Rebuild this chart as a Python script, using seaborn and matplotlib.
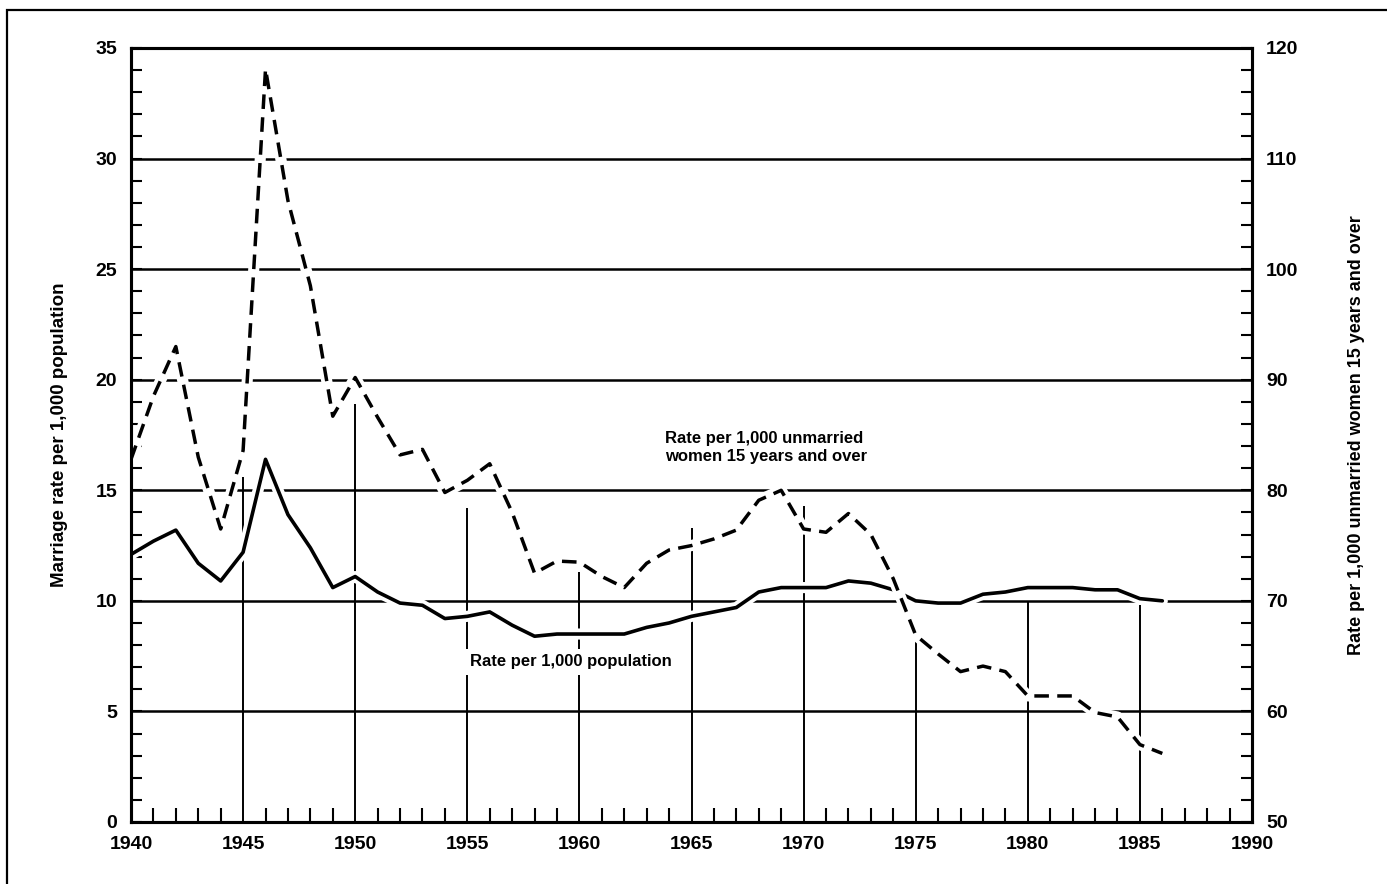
import matplotlib.pyplot as plt
import seaborn as sns
import pandas as pd
from matplotlib import patheffects as pe
from matplotlib.ticker import MultipleLocator
from matplotlib.patches import Rectangle

# Marriage rates, 1940-1986
years = list(range(1940, 1987))
rate_population = [12.1, 12.7, 13.2, 11.7, 10.9, 12.2, 16.4, 13.9, 12.4, 10.6,
                   11.1, 10.4, 9.9, 9.8, 9.2, 9.3, 9.5, 8.9, 8.4, 8.5,
                   8.5, 8.5, 8.5, 8.8, 9.0, 9.3, 9.5, 9.7, 10.4, 10.6,
                   10.6, 10.6, 10.9, 10.8, 10.5, 10.0, 9.9, 9.9, 10.3, 10.4,
                   10.6, 10.6, 10.6, 10.5, 10.5, 10.1, 10.0]
rate_unmarried_women = [82.8, 88.5, 93.0, 83.0, 76.5, 83.6, 118.1, 106.2, 98.5, 86.7,
                        90.2, 86.6, 83.2, 83.7, 79.8, 80.9, 82.4, 78.0, 72.5, 73.6,
                        73.5, 72.2, 71.2, 73.4, 74.6, 75.0, 75.6, 76.4, 79.1, 80.0,
                        76.5, 76.2, 77.9, 76.0, 72.0, 66.9, 65.2, 63.6, 64.1, 63.6,
                        61.4, 61.4, 61.4, 59.9, 59.5, 57.0, 56.2]

# vertical drop lines at every 5 years (top in left-axis units)
drop_years = [1945, 1950, 1955, 1960, 1965, 1970, 1975, 1980, 1985]
drop_tops = [15.6, 18.9, 14.2, 11.3, 13.3, 14.3, 8.9, 10.0, 9.8]

left_ticks = [0, 5, 10, 15, 20, 25, 30, 35]
right_ticks = [50, 60, 70, 80, 90, 100, 110, 120]
year_ticks = [1940, 1945, 1950, 1955, 1960, 1965, 1970, 1975, 1980, 1985, 1990]

df = pd.DataFrame({"Year": years, "Population": rate_population,
                   "Women": rate_unmarried_women})

sns.set_theme(style="white")
plt.rcParams["font.family"] = ["Liberation Sans", "DejaVu Sans"]
plt.rcParams["font.weight"] = "bold"
for key in ("text.color", "axes.labelcolor", "xtick.color", "ytick.color"):
    plt.rcParams[key] = "black"

fig = plt.figure(figsize=(13.87, 8.84), dpi=100)
ax = fig.add_axes([131 / 1387, 1 - 822 / 884, (1252 - 131) / 1387, (822 - 48) / 884])
ax2 = ax.twinx()

# outer frame
fig.add_artist(Rectangle((7 / 1387, -0.2), 1.2, 1.2 - 10 / 884, transform=fig.transFigure,
                         fill=False, edgecolor="black", lw=1.6))

# horizontal grid and drop lines
for yv in left_ticks[1:-1]:
    ax.axhline(yv, color="black", lw=1.8, zorder=1)
ax.vlines(drop_years, 0, drop_tops, color="black", lw=1.4, zorder=1)

halo = [pe.Stroke(linewidth=8, foreground="white"), pe.Normal()]
sns.lineplot(data=df, x="Year", y="Population", ax=ax, color="black", lw=2.6,
             zorder=3, path_effects=halo)

sns.lineplot(data=df, x="Year", y="Women", ax=ax2, color="white", lw=8, zorder=2)
sns.lineplot(data=df, x="Year", y="Women", ax=ax2, color="black", lw=2.5,
             linestyle=(0, (4.2, 2.4)), zorder=3)

ax.set_xlim(1940, 1990)
ax.set_ylim(0, 35)
ax2.set_ylim(50, 120)

ax.set_xticks(year_ticks)
ax.set_xticklabels([str(y) for y in year_ticks])
ax.xaxis.set_minor_locator(MultipleLocator(1))
ax.set_yticks(left_ticks)
ax.yaxis.set_minor_locator(MultipleLocator(1))
ax2.set_yticks(right_ticks)
ax2.yaxis.set_minor_locator(MultipleLocator(2))

ax.tick_params(axis="x", which="major", direction="in", length=0, pad=10, labelsize=14)
ax.tick_params(axis="x", which="minor", direction="in", length=10, width=1.5, color="black")
ax.tick_params(axis="y", which="major", direction="in", length=8, width=1.5, pad=10,
               labelsize=14, left=True, color="black")
ax.tick_params(axis="y", which="minor", direction="in", length=8, width=1.5, left=True,
               color="black")
ax2.tick_params(axis="y", which="major", direction="in", length=8, width=1.5, pad=10,
                labelsize=14, right=True, color="black")
ax2.tick_params(axis="y", which="minor", direction="in", length=8, width=1.5, right=True,
                color="black")
ax.tick_params(axis="x", which="both", bottom=True, top=False)

for a in (ax, ax2):
    for s in a.spines.values():
        s.set_color("black")
        s.set_linewidth(2.2)

ax.set_xlabel("")
ax.set_ylabel("Marriage rate per 1,000 population", fontsize=13.5, fontweight="bold",
              labelpad=20)
ax2.set_ylabel("Rate per 1,000 unmarried women 15 years and over", fontsize=13,
               fontweight="bold", labelpad=36)

ax.text(1963.8, 17.7, "Rate per 1,000 unmarried\nwomen 15 years and over", fontsize=12,
        fontweight="bold", ha="left", va="top", multialignment="left",
        linespacing=1.25, zorder=5)
ax.text(1955.1, 7.25, "Rate per 1,000 population", fontsize=12, fontweight="bold",
        ha="left", va="center", zorder=5,
        bbox=dict(facecolor="white", edgecolor="none", pad=4))

fig.savefig("out.png", dpi=100)
